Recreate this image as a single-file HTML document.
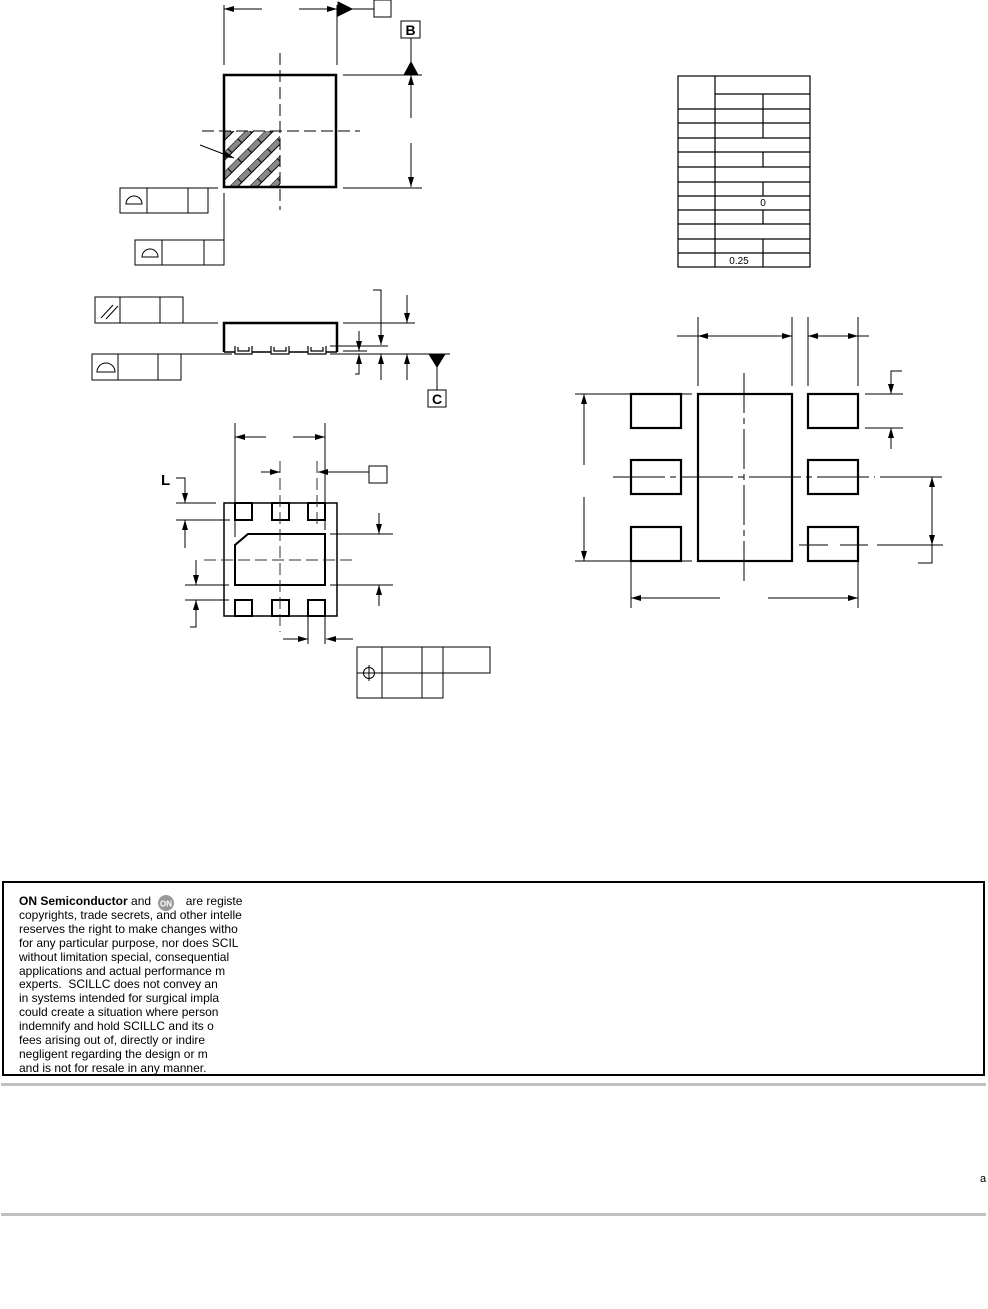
<!DOCTYPE html>
<html><head><meta charset="utf-8"><style>
html,body{margin:0;padding:0;background:#fff;width:988px;height:1309px;overflow:hidden;position:relative}
svg{position:absolute;left:0;top:0}
.ft{position:absolute;left:19px;top:895px;width:223px;overflow:hidden;white-space:nowrap;font-family:"Liberation Sans",sans-serif;font-size:12px;line-height:13.9px;color:#000;height:180px}
</style></head><body>
<svg width="988" height="1309" viewBox="0 0 988 1309" xmlns="http://www.w3.org/2000/svg" fill="none" stroke="#000" stroke-width="1">
<defs>
<marker id="a" viewBox="0 0 10 6" refX="10" refY="3" markerWidth="10" markerHeight="6" markerUnits="userSpaceOnUse" orient="auto"><path d="M0,0L10,3L0,6z" fill="#000" stroke="none"/></marker>
<pattern id="h" width="14" height="14" patternUnits="userSpaceOnUse" patternTransform="rotate(45)"><rect x="0" y="0" width="6" height="14" fill="#888"/></pattern>
</defs>
<!-- TOP VIEW -->
<rect x="224" y="131" width="56" height="56" fill="url(#h)" stroke="none"/>
<rect x="224" y="75" width="112" height="112" stroke-width="2.5"/>
<g stroke-dasharray="12,5"><path d="M280 53V210M202 131H360"/></g>
<path d="M224 5V65M337 5V65"/>
<path d="M262 9H224" marker-end="url(#a)"/><path d="M299 9H337" marker-end="url(#a)"/>
<path d="M338 2L352 9L338 16z" fill="#000"/>
<path d="M352 9H374"/><rect x="374" y="0" width="17" height="17"/>
<rect x="401" y="21" width="19" height="17"/>
<text x="410.5" y="35" font-family="Liberation Sans,sans-serif" font-size="14" font-weight="bold" fill="#000" stroke="none" text-anchor="middle">B</text>
<path d="M411 38V62"/><path d="M404 75L411 62L418 75z" fill="#000"/>
<path d="M343 75H422M343 188H422"/>
<path d="M411 118V75" marker-end="url(#a)"/><path d="M411 143V187" marker-end="url(#a)"/>
<path d="M200 145L234 158" marker-end="url(#a)"/>
<rect x="120" y="188" width="88" height="25"/><path d="M147 188V213M188 188V213M208 188H218"/>
<path d="M126 204A8 8 0 0 1 142 204Z"/>
<rect x="135" y="240" width="89" height="25"/><path d="M162 240V265M204 240V265M224 193V240"/>
<path d="M142 257A8 8 0 0 1 158 257Z"/>
<!-- SIDE VIEW -->
<path d="M224 352V323H337V352" stroke-width="2.5"/>
<path d="M224 352H235M252 352H271M289 352H308M326 352H337" stroke-width="1.5"/>
<path d="M235 346V354H252V346M238 347V351H249V347M271 346V354H289V346M274 347V351H286V347M308 346V354H326V346M311 347V351H323V347" stroke-width="1.2"/>
<rect x="95" y="297" width="88" height="26"/><path d="M120 297V323M160 297V323M183 323H218M101 318L113 305M106 319L118 306"/>
<rect x="92" y="354" width="89" height="26"/><path d="M118 354V380M158 354V380M181 354H232M330 354H450"/>
<path d="M97 372A9 9 0 0 1 115 372Z"/>
<path d="M343 323H415"/><path d="M407 295V323" marker-end="url(#a)"/>
<path d="M373 290H381V345" marker-end="url(#a)"/>
<path d="M330 346H388M343 351H367"/>
<path d="M359 331V351" marker-end="url(#a)"/>
<path d="M355 374H359V354" marker-end="url(#a)"/>
<path d="M381 380V354" marker-end="url(#a)"/><path d="M407 380V354" marker-end="url(#a)"/>
<path d="M429 354L445 354L437 367z" fill="#000"/><path d="M437 367V390"/>
<rect x="428" y="390" width="18" height="17"/>
<text x="437" y="404" font-family="Liberation Sans,sans-serif" font-size="14" font-weight="bold" fill="#000" stroke="none" text-anchor="middle">C</text>
<!-- BOTTOM VIEW -->
<rect x="224" y="503" width="113" height="113" stroke-width="1.5"/>
<g stroke-width="2"><path d="M235 520V503H252V520H235ZM272 520V503H289V520H272ZM308 520V503H325V520H308Z"/>
<path d="M235 600V616H252V600H235ZM272 600V616H289V600H272ZM308 600V616H325V600H308Z"/>
<path d="M235 585V545L248 534H325V585Z"/></g>
<g stroke-dasharray="12,5" stroke="#333"><path d="M280 461V632M204 560H357M317 461V528"/></g>
<path d="M235 423V537M325 423V530"/>
<path d="M266 437H235" marker-end="url(#a)"/><path d="M293 437H325" marker-end="url(#a)"/>
<path d="M261 472H280" marker-end="url(#a)"/><path d="M369 472H318" marker-end="url(#a)"/>
<rect x="369" y="466" width="18" height="17"/>
<text x="161" y="485" font-family="Liberation Sans,sans-serif" font-size="15" font-weight="bold" fill="#000" stroke="none">L</text>
<path d="M176 478H185V503" marker-end="url(#a)"/>
<path d="M176 503H216M176 520H230"/>
<path d="M185 548V520" marker-end="url(#a)"/>
<path d="M196 560V585" marker-end="url(#a)"/>
<path d="M185 585H229M185 600H229"/>
<path d="M190 627H196V600" marker-end="url(#a)"/>
<path d="M330 534H393M330 585H393"/>
<path d="M379 513V534" marker-end="url(#a)"/><path d="M379 606V585" marker-end="url(#a)"/>
<path d="M308 600V644M325 600V644"/>
<path d="M283 639H308" marker-end="url(#a)"/><path d="M353 639H326" marker-end="url(#a)"/>
<path d="M357 647H490V673H357ZM357 673V698H443V647M382 647V698M422 647V698M443 647V673" />
<circle cx="369" cy="673" r="5.5"/><path d="M369 665V681M361 673H377"/>
<!-- TABLE -->
<g stroke-width="1.2">
<rect x="678" y="76" width="132" height="191"/>
<path d="M715 76V267M715 94H810"/>
<path d="M678 109H810M678 123H810M678 138H810M678 152H810M678 167H810M678 182H810M678 196H810M678 210H810M678 224H810M678 239H810M678 253H810"/>
<path d="M763 94V138M763 152V167M763 182V196M763 210V224M763 239V267"/>
</g>
<text x="763" y="206" font-family="Liberation Sans,sans-serif" font-size="10" fill="#000" stroke="none" text-anchor="middle">0</text>
<text x="739" y="264" font-family="Liberation Sans,sans-serif" font-size="10" fill="#000" stroke="none" text-anchor="middle">0.25</text>
<!-- LAND PATTERN -->
<g stroke-width="2.2">
<rect x="631" y="394" width="50" height="34"/><rect x="631" y="460" width="50" height="34"/><rect x="631" y="527" width="50" height="34"/>
<rect x="698" y="394" width="94" height="167"/>
<rect x="808" y="394" width="50" height="34"/><rect x="808" y="460" width="50" height="34"/><rect x="808" y="527" width="50" height="34"/>
</g>
<path d="M698 317V386M792 317V386M808 317V386M858 317V386"/>
<path d="M677 336H698"/><path d="M745 336H698" marker-end="url(#a)"/><path d="M745 336H792" marker-end="url(#a)"/>
<path d="M833 336H808" marker-end="url(#a)"/><path d="M833 336H858" marker-end="url(#a)"/><path d="M858 336H869"/>
<path d="M575 394H692M575 561H692"/>
<path d="M584 465V394" marker-end="url(#a)"/><path d="M584 497V561" marker-end="url(#a)"/>
<path d="M902 371H891V394" marker-end="url(#a)"/>
<path d="M865 394H903M865 428H903"/>
<path d="M891 449V428" marker-end="url(#a)"/>
<g stroke-dasharray="52,5,6,5"><path d="M613 477H875"/></g>
<path d="M880 477H942"/>
<g stroke-dasharray="40,5,6,5"><path d="M744 373V585"/></g>
<path d="M932 510V477" marker-end="url(#a)"/><path d="M932 510V545" marker-end="url(#a)"/><path d="M932 545V563H918"/>
<path d="M799 545H828M840 545H868M877 545H943"/>
<path d="M631 561V608M858 561V608"/>
<path d="M720 598H631" marker-end="url(#a)"/><path d="M768 598H858" marker-end="url(#a)"/>
<!-- FOOTER -->
<rect x="3" y="882" width="981" height="193" stroke-width="2"/>
<path d="M1 1084.5H986M1 1214.5H986" stroke="#c0c0c0" stroke-width="3"/>
<circle cx="166" cy="903" r="8" fill="#999" stroke="none"/>
<text x="166" y="906.5" font-family="Liberation Sans,sans-serif" font-size="8" font-weight="bold" fill="#fff" stroke="none" text-anchor="middle">ON</text>
<text x="980" y="1182" font-family="Liberation Sans,sans-serif" font-size="11" fill="#000" stroke="none">a</text>
</svg>
<div class="ft"><b>ON Semiconductor</b> and <span style="display:inline-block;width:28px"></span> are registe<br>copyrights, trade secrets, and other intelle<br>reserves the right to make changes witho<br>for any particular purpose, nor does SCIL<br>without limitation special, consequential<br>applications and actual performance m<br>experts.&nbsp; SCILLC does not convey an<br>in systems intended for surgical impla<br>could create a situation where person<br>indemnify and hold SCILLC and its o<br>fees arising out of, directly or indire<br>negligent regarding the design or m<br>and is not for resale in any manner.</div>
</body></html>
